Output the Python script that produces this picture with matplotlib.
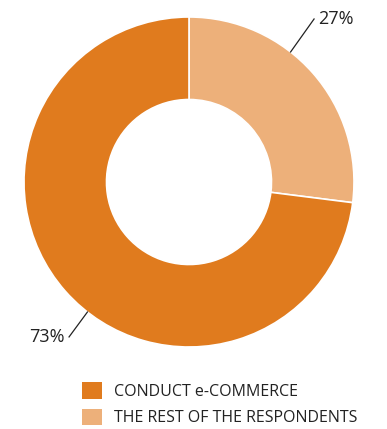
import numpy as np
import matplotlib.pyplot as plt
from matplotlib.patches import Patch

plt.rcParams['font.family'] = ['Open Sans', 'DejaVu Sans']

labels = ['CONDUCT e-COMMERCE', 'THE REST OF THE RESPONDENTS']
shares = [73, 27]
colors = ['#E07B1E', '#EDB07A']

fig = plt.figure(figsize=(3.87, 4.29), dpi=100)
ax = fig.add_axes([24 / 387, 82 / 429, 330 / 387, 330 / 429])

# the light wedge starts at 12 o'clock and runs clockwise, so draw it first
ax.pie(shares[::-1], colors=colors[::-1], startangle=90, counterclock=False,
       radius=1.0, wedgeprops=dict(width=0.5, edgecolor='white', linewidth=1.2))
ax.set_xlim(-1, 1)
ax.set_ylim(-1, 1)
ax.set_aspect('equal')
ax.axis('off')

# leader lines with percentage labels
for val, ang, end, ha in [(shares[1], 52, (0.758, 0.988), 'left'),
                          (shares[0], 232, (-0.727, -0.939), 'right')]:
    a = np.deg2rad(ang)
    start = (np.cos(a), np.sin(a))
    ax.plot([start[0], end[0]], [start[1], end[1]], color='#222222', lw=0.9,
            clip_on=False)
    dx = 0.025 if ha == 'left' else -0.025
    ax.text(end[0] + dx, end[1], f'{val}%', ha=ha, va='center', fontsize=13,
            color='#222222', clip_on=False)

handles = [Patch(facecolor=c, edgecolor='none') for c in colors]
fig.legend(handles, labels, loc='upper left', bbox_to_anchor=(68 / 387, 1 - 368 / 429),
           frameon=False, fontsize=11.5, handlelength=1.2, handleheight=1.2,
           handletextpad=0.75, labelspacing=0.55, labelcolor='#222222')

fig.savefig('out.png', dpi=100)
